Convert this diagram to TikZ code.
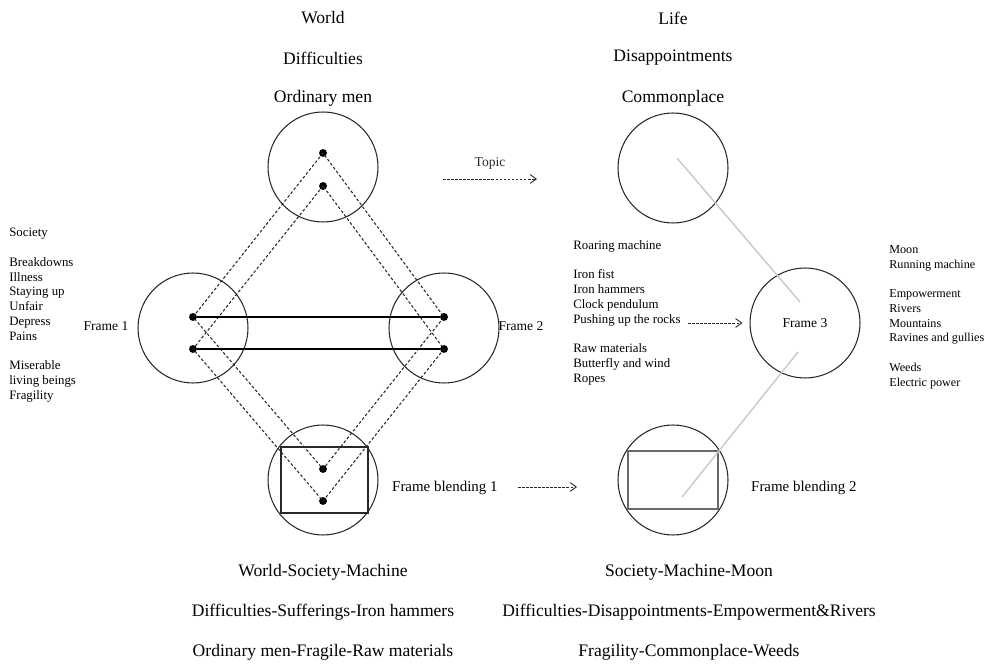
\documentclass[tikz,border=0pt]{standalone}
\usepackage{fontspec}
\setmainfont{Liberation Serif}
\usetikzlibrary{arrows.meta,positioning,calc}
\definecolor{inkgray}{RGB}{40,40,40}
\definecolor{paleline}{RGB}{200,200,200}
\definecolor{boxgray}{RGB}{105,105,105}

\begin{document}
\begin{tikzpicture}[
    x=0.02cm, y=-0.02cm,
    >={Straight Barb[length=3.5pt,width=5pt]},
    frame/.style={circle, draw=inkgray, line width=0.6pt, minimum size=2.2cm, inner sep=0pt},
    dot/.style={circle, fill=black, inner sep=0pt, minimum size=4.5pt},
    link/.style={line width=1.1pt, black},
    mapline/.style={line width=0.6pt, inkgray, dash pattern=on 1.6pt off 1.2pt},
    tarrow/.style={->, line width=0.5pt, inkgray, dash pattern=on 1.5pt off 0.8pt},
    head/.style={font=\fontsize{10}{12}\selectfont},
    tag/.style={font=\fontsize{7.7}{9}\selectfont},
    blendtag/.style={font=\fontsize{8.5}{10}\selectfont, anchor=west},
    column/.style={font=\fontsize{7.3}{8.4}\selectfont, align=left, anchor=north west, inner sep=0pt}
]
    \useasboundingbox (0,0) rectangle (987,668);

    % Headings
    \node[head] (w1) at (323,18) {World};
    \node[head] (w2) at (323,58) {Difficulties};
    \node[head] (w3) at (323,98) {Ordinary men};
    \node[head] (l1) at (673,18) {Life};
    \node[head] (l2) at (673,58) {Disappointments};
    \node[head] (l3) at (673,98) {Commonplace};

    % Left diagram: four frames
    \node[frame] (top) at (323,167) {};
    \node[frame] (f1) at (193,328) {};
    \node[frame] (f2) at (444,328) {};
    \node[frame] (fb1) at (323,480) {};
    \node[draw=inkgray, line width=0.6pt, minimum width=1.74cm, minimum height=1.32cm, inner sep=0pt] (box1) at (324.5,480) {};

    \node[dot] (ta) at (323,153) {};
    \node[dot] (tb) at (323,186) {};
    \node[dot] (la) at (193,317) {};
    \node[dot] (lb) at (193,349) {};
    \node[dot] (ra) at (444,317) {};
    \node[dot] (rb) at (444,349) {};
    \node[dot] (ba) at (323,469) {};
    \node[dot] (bb) at (323,501) {};

    \draw[mapline] (ta.center) -- (la.center) -- (ba.center) -- (ra.center) -- cycle;
    \draw[mapline] (tb.center) -- (lb.center) -- (bb.center) -- (rb.center) -- cycle;
    \draw[link] (la) -- (ra);
    \draw[link] (lb) -- (rb);

    \node[tag] (t1) at (106,326) {Frame 1};
    \node[tag] (t2) at (521,326) {Frame 2};
    \node[blendtag] (tb1) at (386,488) {Frame blending 1};

    % Left word list
    \node[column] (soc) at (9,228) {Society\\[8.4pt]Breakdowns\\Illness\\Staying up\\Unfair\\Depress\\Pains\\[8.4pt]Miserable\\living beings\\Fragility};

    % Right diagram
    \node[frame] (top2) at (673,168) {};
    \node[frame] (f3) at (805,323) {};
    \node[frame] (fb2) at (673,480) {};
    \node[draw=boxgray, line width=1.1pt, minimum width=1.8cm, minimum height=1.16cm, inner sep=0pt] (box2) at (673,480) {};
    \node[tag] at (f3) {Frame 3};
    \node[blendtag] (tb2) at (745,488) {Frame blending 2};

    \coordinate (ga) at (677,158);
    \coordinate (gb) at (800,302);
    \coordinate (gc) at (682,497);
    \coordinate (gd) at (798,352);
    \draw[paleline, line width=0.8pt] (ga) -- (gb);
    \draw[paleline, line width=0.8pt] (gc) -- (gd);

    \node[column] (mid) at (573,240) {Roaring machine\\[8.4pt]Iron fist\\Iron hammers\\Clock pendulum\\Pushing up the rocks\\[8.4pt]Raw materials\\Butterfly and wind\\Ropes};
    \node[column, font=\fontsize{6.9}{8.4}\selectfont] (rgt) at (889,245) {Moon\\Running machine\\[8.4pt]Empowerment\\Rivers\\Mountains\\Ravines and gullies\\[8.4pt]Weeds\\Electric power};

    % Arrows between the diagrams
    \coordinate (topicL) at (443,179);
    \coordinate (topicR) at (537,179);
    \draw[tarrow] (topicL) -- node[tag, above=2pt] {Topic} (topicR);
    \coordinate (pushL) at (688,323);
    \draw[tarrow] (pushL) -- ([xshift=-0.14cm]f3.west);
    \coordinate (blendL) at (518,487);
    \coordinate (blendR) at (577,487);
    \draw[tarrow] (blendL) -- (blendR);

    % Blends
    \node[head] (s1) at (323,572) {World-Society-Machine};
    \node[head] (s2) at (323,612) {Difficulties-Sufferings-Iron hammers};
    \node[head] (s3) at (323,652) {Ordinary men-Fragile-Raw materials};
    \node[head] (s4) at (689,572) {Society-Machine-Moon};
    \node[head] (s5) at (689,612) {Difficulties-Disappointments-Empowerment\&Rivers};
    \node[head] (s6) at (689,652) {Fragility-Commonplace-Weeds};
\end{tikzpicture}
\end{document}
